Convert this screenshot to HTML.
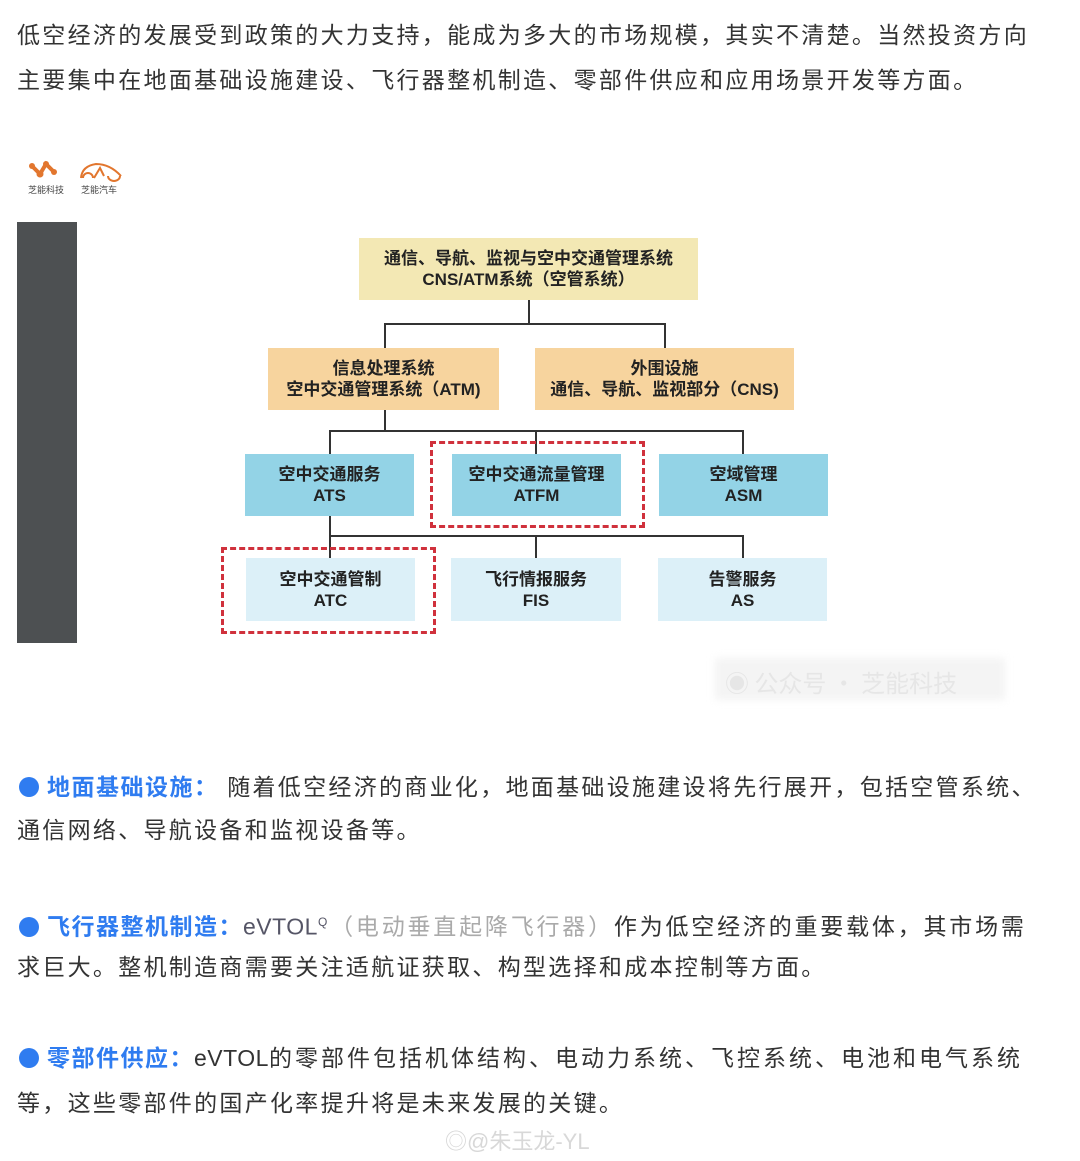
<!DOCTYPE html>
<html><head><meta charset="utf-8">
<style>
body{margin:0;width:1080px;height:1161px;background:#fff;position:relative;overflow:hidden;font-family:"Liberation Sans","Noto Sans CJK SC",sans-serif;}
.t{position:absolute;left:17px;white-space:nowrap;font-size:23px;letter-spacing:2.3px;color:#333;line-height:30px;}
.b{color:#2f7cf0;font-weight:bold;letter-spacing:1.5px;}
.dot{display:inline-block;width:20px;height:20px;border-radius:50%;background:#2f7cf0;vertical-align:-2px;margin-right:8px;margin-left:2px;}
.box{position:absolute;display:flex;align-items:center;justify-content:center;text-align:center;font-weight:bold;font-size:17px;line-height:21px;color:#222;}
.ln{position:absolute;background:#333;}
.dash{position:absolute;border:3px dashed #d0313c;}
</style></head><body>
<div class="t" style="top:20px">低空经济的发展受到政策的大力支持，能成为多大的市场规模，其实不清楚。当然投资方向</div>
<div class="t" style="top:65px">主要集中在地面基础设施建设、飞行器整机制造、零部件供应和应用场景开发等方面。</div>

<svg style="position:absolute;left:28px;top:160px" width="100" height="36">
<path d="M4 6 L12 14 L18 4 L26 12" stroke="#e2762e" stroke-width="4" fill="none"/>
<circle cx="4" cy="6" r="3" fill="#e2762e"/><circle cx="12" cy="14" r="3.5" fill="#e2762e"/><circle cx="18" cy="4" r="3" fill="#e2762e"/><circle cx="26" cy="12" r="3" fill="#e2762e"/>
<path d="M53 18 Q54 6 68 4 Q82 4 93 16 M55 18 a5 5 0 1 1 10 0 M80 16 a6 5 0 1 0 12 0 M66 18 L72 8 L76 16" stroke="#e2762e" stroke-width="2" fill="none"/>
<text x="0" y="33" font-size="9" fill="#444" font-family="Noto Sans CJK SC,sans-serif">芝能科技</text>
<text x="53" y="33" font-size="9" fill="#444" font-family="Noto Sans CJK SC,sans-serif">芝能汽车</text>
</svg>
<div style="position:absolute;left:17px;top:222px;width:60px;height:421px;background:#4d5052"></div>

<div class="ln" style="left:528px;top:300px;width:2px;height:24px"></div>
<div class="ln" style="left:384px;top:323px;width:282px;height:2px"></div>
<div class="ln" style="left:384px;top:323px;width:2px;height:25px"></div>
<div class="ln" style="left:664px;top:323px;width:2px;height:25px"></div>
<div class="ln" style="left:384px;top:410px;width:2px;height:22px"></div>
<div class="ln" style="left:329px;top:430px;width:415px;height:2px"></div>
<div class="ln" style="left:329px;top:430px;width:2px;height:24px"></div>
<div class="ln" style="left:535px;top:430px;width:2px;height:24px"></div>
<div class="ln" style="left:742px;top:430px;width:2px;height:24px"></div>
<div class="ln" style="left:329px;top:516px;width:2px;height:42px"></div>
<div class="ln" style="left:329px;top:535px;width:415px;height:2px"></div>
<div class="ln" style="left:535px;top:535px;width:2px;height:23px"></div>
<div class="ln" style="left:742px;top:535px;width:2px;height:23px"></div>

<div class="box" style="left:359px;top:238px;width:339px;height:62px;background:#f3e8b4">通信、导航、监视与空中交通管理系统<br>CNS/ATM系统（空管系统）</div>
<div class="box" style="left:268px;top:348px;width:231px;height:62px;background:#f7d49e">信息处理系统<br>空中交通管理系统（ATM)</div>
<div class="box" style="left:535px;top:348px;width:259px;height:62px;background:#f7d49e">外围设施<br>通信、导航、监视部分（CNS)</div>
<div class="box" style="left:245px;top:454px;width:169px;height:62px;background:#93d3e6">空中交通服务<br>ATS</div>
<div class="box" style="left:452px;top:454px;width:169px;height:62px;background:#93d3e6">空中交通流量管理<br>ATFM</div>
<div class="box" style="left:659px;top:454px;width:169px;height:62px;background:#93d3e6">空域管理<br>ASM</div>
<div class="box" style="left:246px;top:558px;width:169px;height:63px;background:#dcf0f8">空中交通管制<br>ATC</div>
<div class="box" style="left:451px;top:558px;width:170px;height:63px;background:#dcf0f8">飞行情报服务<br>FIS</div>
<div class="box" style="left:658px;top:558px;width:169px;height:63px;background:#dcf0f8">告警服务<br>AS</div>
<div class="dash" style="left:430px;top:441px;width:209px;height:81px"></div>
<div class="dash" style="left:221px;top:547px;width:209px;height:81px"></div>

<div style="position:absolute;left:715px;top:658px;width:290px;height:42px;background:#f4f4f4;filter:blur(4px)"></div>
<div style="position:absolute;left:725px;top:664px;font-size:24px;color:#e6e6e6;white-space:nowrap;font-family:'Noto Sans CJK SC',sans-serif">◉ 公众号 · 芝能科技</div>

<div class="t" style="top:772px"><span class="dot"></span><span class="b">地面基础设施：</span> 随着低空经济的商业化，地面基础设施建设将先行展开，包括空管系统、</div>
<div class="t" style="top:815px">通信网络、导航设备和监视设备等。</div>
<div class="t" style="top:907px;letter-spacing:2.8px"><span class="dot"></span><span class="b">飞行器整机制造：</span><span style="color:#556;letter-spacing:0.5px">eVTOL</span><sup style="font-size:12px;color:#556">Q</sup><span style="color:#aaa">（电动垂直起降飞行器）</span>作为低空经济的重要载体，其市场需</div>
<div class="t" style="top:952px">求巨大。整机制造商需要关注适航证获取、构型选择和成本控制等方面。</div>
<div class="t" style="top:1043px;letter-spacing:3px"><span class="dot"></span><span class="b">零部件供应：</span><span style="letter-spacing:0.5px">eVTOL</span>的零部件包括机体结构、电动力系统、飞控系统、电池和电气系统</div>
<div class="t" style="top:1088px">等，这些零部件的国产化率提升将是未来发展的关键。</div>
<div style="position:absolute;left:445px;top:1124px;font-size:22px;color:#d8d8d8;white-space:nowrap">◎@朱玉龙-YL</div>
</body></html>
